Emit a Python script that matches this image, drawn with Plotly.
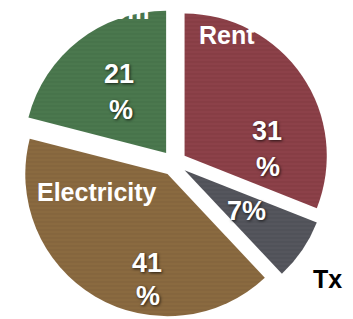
import plotly.graph_objects as go

labels = ["Rent", "Tx", "Electricity", "Telecom"]
values = [31, 7, 41, 21]
pct_num = ["31", "7%", "41", "21"]
colors = ["#8C4149", "#55565D", "#8A6A40", "#4B784E"]
grain = ["#7A343C", "#46474E", "#7A5C36", "#3F6A43"]

W, H = 353, 319
OFF = 8  # page body margin offset of the figure in the window

# pie placement (figure pixels): center y 155, half-height 155
dom_x = [0, 332 / W]
dom_y = [1 - 310 / H, 1]

fig = go.Figure(go.Pie(
    labels=labels,
    values=values,
    sort=False,
    direction="clockwise",
    rotation=0,
    pull=[0.09] * 4,
    textinfo="none",
    hoverinfo="label+percent",
    marker=dict(
        colors=colors,
        line=dict(width=0),
        pattern=dict(shape="-", fgcolor=grain, bgcolor=colors, fgopacity=0.5,
                     size=4, solidity=0.3),
    ),
    domain=dict(x=dom_x, y=dom_y),
    showlegend=False,
))

def px(x, y):
    # window pixel -> paper coordinates
    return (x - OFF) / W, 1 - (y - OFF) / H

shadow = "1px 1px 3px rgba(0,0,0,0.75)"
name_font = dict(family="Liberation Sans, Arial", size=25, color="white", weight="bold")
pct_font = dict(family="Liberation Sans Narrow, Arial Narrow, Liberation Sans", size=27,
                color="white", weight="bold", shadow=shadow)

ann = []
name_pos = [("Rent", 227, 35, "white"), ("Electricity", 97, 192, "white"),
            ("Tx", 327, 279, "black"), ("Telecom", 100, 10, "white")]
for t, x, y, c in name_pos:
    ax, ay = px(x, y)
    f = dict(name_font)
    f["color"] = c
    ann.append(dict(text=t, x=ax, y=ay, xref="paper", yref="paper", showarrow=False,
                    xanchor="center", yanchor="middle", font=f))

num_pos = [(267, 131), (246, 211), (147, 263), (119, 74)]
sign_pos = [(268, 167), None, (148, 296), (121, 110)]
for t, p, s in zip(pct_num, num_pos, sign_pos):
    ax, ay = px(*p)
    ann.append(dict(text=t, x=ax, y=ay, xref="paper", yref="paper", showarrow=False,
                    xanchor="center", yanchor="middle", font=pct_font))
    if s is not None:
        bx, by = px(*s)
        ann.append(dict(text="%", x=bx, y=by, xref="paper", yref="paper", showarrow=False,
                        xanchor="center", yanchor="middle", font=pct_font))

fig.update_layout(
    width=W, height=H,
    margin=dict(l=0, r=0, t=0, b=0),
    paper_bgcolor="white",
    plot_bgcolor="white",
    annotations=ann,
)

fig.write_html("out.html")
